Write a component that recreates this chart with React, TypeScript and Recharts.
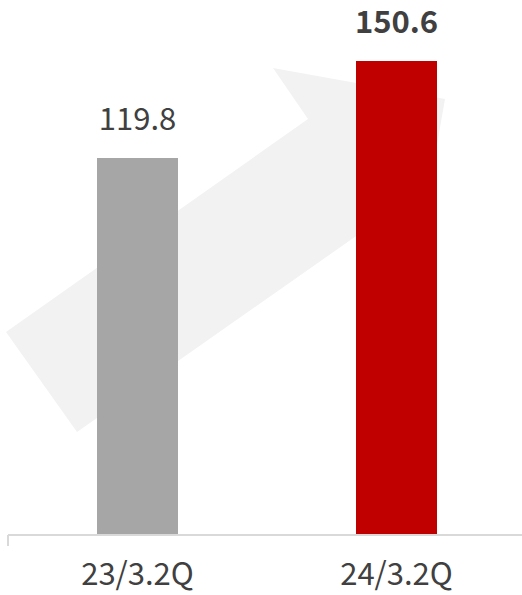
import { BarChart, Bar, XAxis, YAxis, Cell, LabelList } from "recharts";

const periods = ["23/3.2Q", "24/3.2Q"];
const values = [119.8, 150.6];

const BAR_COLORS = ["#A6A6A6", "#C00000"];
const FONT = '"Noto Sans CJK JP", "Noto Sans", sans-serif';

const data = periods.map((period, i) => ({ period, value: values[i] }));

function ValueLabel(props: any) {
  const { x, y, width, value, index } = props;
  const latest = index === data.length - 1;
  return (
    <text
      x={x + width / 2}
      y={y - 28}
      textAnchor="middle"
      fontFamily={FONT}
      fontSize={31}
      fontWeight={latest ? 700 : 400}
      fill="#404040"
    >
      {Number(value).toFixed(1)}
    </text>
  );
}

export default function App() {
  return (
    <div style={{ position: "relative", width: 522, height: 595, background: "#fff", overflow: "hidden" }}>
      <style>{"body{margin:0}"}</style>
      {/* decorative growth arrow behind the bars */}
      <svg width={522} height={595} style={{ position: "absolute", left: 0, top: 0 }}>
        <polygon
          points="6,332 308,119 273,68 445,99 415,270 379,220 77,432"
          fill="#F2F2F2"
        />
      </svg>
      <div style={{ position: "absolute", left: 0, top: 0 }}>
        <BarChart width={522} height={595} data={data} margin={{ top: 0, right: -4, bottom: 0, left: 8 }}>
          {/* category boundary ticks */}
          <XAxis
            xAxisId={0}
            type="number"
            domain={[0, 2]}
            ticks={[0, 1, 2]}
            allowDataOverflow
            tickFormatter={() => ""}
            height={1}
            tickSize={11}
            axisLine={{ stroke: "#D9D9D9", strokeWidth: 2 }}
            tickLine={{ stroke: "#D9D9D9", strokeWidth: 2 }}
          />
          <XAxis
            xAxisId={1}
            dataKey="period"
            height={59}
            axisLine={false}
            tickLine={false}
            tickMargin={21}
            tick={{ fontFamily: FONT, fontSize: 31, fill: "#404040" }}
          />
          <YAxis hide domain={[0, 170]} />
          <Bar xAxisId={1} dataKey="value" barSize={81} isAnimationActive={false}>
            {data.map((d, i) => (
              <Cell key={d.period} fill={BAR_COLORS[i]} />
            ))}
            <LabelList dataKey="value" content={ValueLabel} />
          </Bar>
        </BarChart>
      </div>
    </div>
  );
}
